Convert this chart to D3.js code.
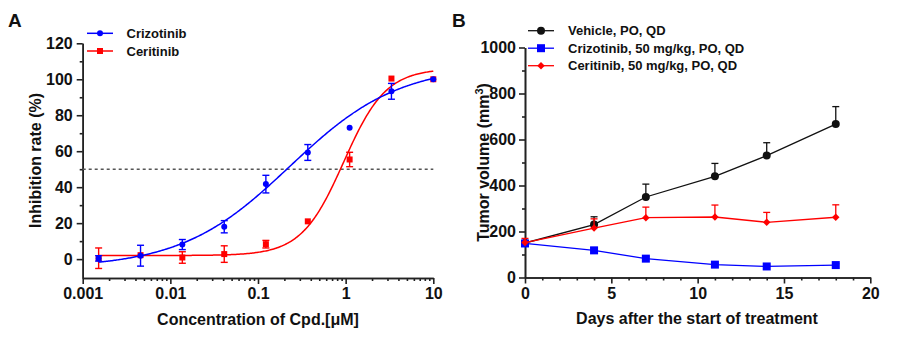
<!DOCTYPE html>
<html>
<head>
<meta charset="utf-8">
<script src="https://cdn.jsdelivr.net/npm/d3@7"></script>
<style>
body { margin: 0; background: #fff; }
svg text { font-family: "Liberation Sans", Arial, sans-serif; font-weight: bold; fill: #111; }
.axis path, .axis line { stroke: #222; stroke-width: 1.6; }
.axis text { font-size: 16px; }
</style>
</head>
<body>
<div id="chart"></div>
<script>
// ---- panel A: inhibition vs concentration ----
var conc = [0.00152, 0.00457, 0.0137, 0.0412, 0.123, 0.370, 1.11, 3.33, 10];
var crizo = [0.4, 1.9, 8.1, 18, 41.7, 59.3, 73, 93.3, 100];
var crizoErr = [1.5, 5.8, 2.8, 3.4, 4.9, 4.4, 0, 4.4, 0];
var ceri = [0.5, 2.2, 0.9, 2.8, 8.3, 21, 55.4, 100.4, 100];
var ceriErr = [5.7, 0, 3.2, 4.6, 2.1, 0, 4, 0, 0];
// 4PL fit: bottom, top, IC50, hill
var crizoFit = [-5, 108, 0.23, 0.7];
var ceriFit = [2, 106, 0.95, 1.8];
var xTicksA = [0.001, 0.01, 0.1, 1, 10];
var xLabelsA = ["0.001", "0.01", "0.1", "1", "10"];
var yTicksA = [0, 20, 40, 60, 80, 100, 120];

// ---- panel B: tumour volume over time ----
var days = [0, 4, 7, 11, 14, 18];
var vehicle = [150, 230, 350, 440, 530, 667];
var vehicleErr = [10, 34, 56, 56, 56, 76];
var crizoB = [148, 118, 82, 56, 48, 54];
var crizoBErr = [10, 12, 8, 6, 5, 6];
var ceriB = [152, 215, 260, 263, 240, 262];
var ceriBErr = [18, 40, 46, 52, 43, 54];
var xTicksB = [0, 5, 10, 15, 20];
var yTicksB = [0, 200, 400, 600, 800, 1000];

var width = 913, height = 344;
var blue = "#0000ff", red = "#ff0000";

var svg = d3.select("#chart")
            .append("svg")
            .attr("width", width)
            .attr("height", height);
svg.append("rect").attr("width", width).attr("height", height).attr("fill", "#fff");

// ================= panel A =================
var xA = d3.scaleLog().domain([0.001, 10]).range([82.7, 433.3]);
var yA = d3.scaleLinear().domain([-10.5, 120]).range([278, 43.3]);

// minor ticks first
var minorX = [];
[0.001, 0.01, 0.1, 1].forEach(function(d) {
  for (var k = 2; k <= 9; k++) minorX.push(d * k);
});
svg.append("g").attr("class", "axis")
   .attr("transform", "translate(0,278)")
   .call(d3.axisBottom(xA).tickValues(minorX).tickSize(3).tickSizeOuter(0).tickFormat(""));
svg.append("g").attr("class", "axis")
   .attr("transform", "translate(0,278)")
   .call(d3.axisBottom(xA).tickValues(xTicksA).tickSize(6).tickSizeOuter(0).tickPadding(4)
           .tickFormat(function(d, i) { return xLabelsA[i]; }));
svg.append("g").attr("class", "axis")
   .attr("transform", "translate(82.7,0)")
   .call(d3.axisLeft(yA).tickValues([10, 30, 50, 70, 90, 110]).tickSize(3).tickSizeOuter(0).tickFormat(""));
svg.append("g").attr("class", "axis")
   .attr("transform", "translate(82.7,0)")
   .call(d3.axisLeft(yA).tickValues(yTicksA).tickSize(6).tickSizeOuter(0).tickPadding(4));

// 50% reference line
svg.append("line")
   .attr("x1", xA(0.001)).attr("x2", xA(10))
   .attr("y1", yA(50)).attr("y2", yA(50))
   .attr("stroke", "#555").attr("stroke-width", 1.5).attr("stroke-dasharray", "3,3");

function fit4pl(p, x) {
  return p[0] + (p[1] - p[0]) / (1 + Math.pow(p[2] / x, p[3]));
}
var lo = Math.log10(conc[0]), hi = Math.log10(conc[conc.length - 1]);
var xs = d3.range(0, 301).map(function(i) { return Math.pow(10, lo + (hi - lo) * i / 300); });
var lineA = d3.line().x(function(d) { return xA(d[0]); }).y(function(d) { return yA(d[1]); });

function drawDose(vals, errs, fit, color, shape) {
  svg.append("path")
     .datum(xs.map(function(x) { return [x, fit4pl(fit, x)]; }))
     .attr("d", lineA).attr("fill", "none").attr("stroke", color).attr("stroke-width", 1.5);
  var g = svg.append("g");
  conc.forEach(function(c, i) {
    if (errs[i] > 0) {
      var x = xA(c), y1 = yA(vals[i] + errs[i]), y2 = yA(vals[i] - errs[i]);
      g.append("line").attr("x1", x).attr("x2", x).attr("y1", y1).attr("y2", y2)
       .attr("stroke", color).attr("stroke-width", 1.4);
      [y1, y2].forEach(function(y) {
        g.append("line").attr("x1", x - 3.5).attr("x2", x + 3.5).attr("y1", y).attr("y2", y)
         .attr("stroke", color).attr("stroke-width", 1.4);
      });
    }
    if (shape === "circle") {
      g.append("circle").attr("cx", xA(c)).attr("cy", yA(vals[i])).attr("r", 3).attr("fill", color);
    } else {
      g.append("rect").attr("x", xA(c) - 3).attr("y", yA(vals[i]) - 3)
       .attr("width", 6).attr("height", 6).attr("fill", color);
    }
  });
}
drawDose(ceri, ceriErr, ceriFit, red, "square");
drawDose(crizo, crizoErr, crizoFit, blue, "circle");

// legend A
var legA = [["Crizotinib", blue, "circle"], ["Ceritinib", red, "square"]];
legA.forEach(function(d, i) {
  var y = 33.3 + i * 17.7;
  svg.append("line").attr("x1", 87).attr("x2", 113).attr("y1", y).attr("y2", y)
     .attr("stroke", d[1]).attr("stroke-width", 1.5);
  if (d[2] === "circle") svg.append("circle").attr("cx", 100).attr("cy", y).attr("r", 3).attr("fill", d[1]);
  else svg.append("rect").attr("x", 97).attr("y", y - 3).attr("width", 6).attr("height", 6).attr("fill", d[1]);
  svg.append("text").attr("x", 126.5).attr("y", y + 4.6).attr("font-size", "13px").text(d[0]);
});

svg.append("text").attr("x", 258).attr("y", 325).attr("text-anchor", "middle")
   .attr("font-size", "16px").text("Concentration of Cpd.[\u03bcM]");
svg.append("text").attr("transform", "translate(40.5,160.5) rotate(-90)").attr("text-anchor", "middle")
   .attr("font-size", "16px").text("Inhibition rate (%)");
svg.append("text").attr("x", 8).attr("y", 27).attr("font-size", "19px").text("A");

// ================= panel B =================
var xB = d3.scaleLinear().domain([0, 20]).range([525, 870.3]);
var yB = d3.scaleLinear().domain([0, 1000]).range([277.5, 47.5]);

svg.append("g").attr("class", "axis")
   .attr("transform", "translate(0,277.5)")
   .call(d3.axisBottom(xB).tickValues(d3.range(1, 20).filter(function(d) { return d % 5; }))
           .tickSize(3).tickSizeOuter(0).tickFormat(""));
svg.append("g").attr("class", "axis")
   .attr("transform", "translate(0,277.5)")
   .call(d3.axisBottom(xB).tickValues(xTicksB).tickSize(6).tickSizeOuter(0).tickPadding(4));
svg.append("g").attr("class", "axis")
   .attr("transform", "translate(525,0)")
   .call(d3.axisLeft(yB).tickValues([100, 300, 500, 700, 900]).tickSize(3).tickSizeOuter(0).tickFormat(""));
svg.append("g").attr("class", "axis")
   .attr("transform", "translate(525,0)")
   .call(d3.axisLeft(yB).tickValues(yTicksB).tickSize(6).tickSizeOuter(0).tickPadding(3)
           .tickFormat(d3.format("d")));

var lineB = d3.line().x(function(d, i) { return xB(days[i]); }).y(function(d) { return yB(d); });

function marker(g, shape, x, y, color) {
  if (shape === "circle") {
    g.append("circle").attr("cx", x).attr("cy", y).attr("r", 4).attr("fill", color);
  } else if (shape === "square") {
    g.append("rect").attr("x", x - 4).attr("y", y - 4).attr("width", 8).attr("height", 8).attr("fill", color);
  } else {
    g.append("path").attr("d", d3.symbol(d3.symbolSquare, 28)())
     .attr("transform", "translate(" + x + "," + y + ") rotate(45)").attr("fill", color);
  }
}

function drawTime(vals, errs, color, shape) {
  var g = svg.append("g");
  g.append("path").datum(vals).attr("d", lineB).attr("fill", "none")
   .attr("stroke", color).attr("stroke-width", 1.3);
  days.forEach(function(d, i) {
    var x = xB(d), y0 = yB(vals[i]), y1 = yB(vals[i] + errs[i]);
    g.append("line").attr("x1", x).attr("x2", x).attr("y1", y0).attr("y2", y1)
     .attr("stroke", color).attr("stroke-width", 1.3);
    g.append("line").attr("x1", x - 3.5).attr("x2", x + 3.5).attr("y1", y1).attr("y2", y1)
     .attr("stroke", color).attr("stroke-width", 1.3);
    marker(g, shape, x, y0, color);
  });
}
drawTime(vehicle, vehicleErr, "#111", "circle");
drawTime(crizoB, crizoBErr, blue, "square");
drawTime(ceriB, ceriBErr, red, "diamond");

// legend B
var legB = [["Vehicle, PO, QD", "#111", "circle"],
            ["Crizotinib, 50 mg/kg, PO, QD", blue, "square"],
            ["Ceritinib, 50 mg/kg, PO, QD", red, "diamond"]];
legB.forEach(function(d, i) {
  var y = 30.7 + i * 17.5;
  var g = svg.append("g");
  g.append("line").attr("x1", 528).attr("x2", 554).attr("y1", y).attr("y2", y)
   .attr("stroke", d[1]).attr("stroke-width", 1.3);
  marker(g, d[2], 541, y, d[1]);
  g.append("text").attr("x", 568).attr("y", y + 4.6).attr("font-size", "13px").text(d[0]);
});

svg.append("text").attr("x", 697).attr("y", 324).attr("text-anchor", "middle")
   .attr("font-size", "16px").text("Days after the start of treatment");
var ty = svg.append("text").attr("transform", "translate(489,162.5) rotate(-90)")
   .attr("text-anchor", "middle").attr("font-size", "16px");
ty.append("tspan").text("Tumor volume (mm");
ty.append("tspan").attr("font-size", "11px").attr("dy", "-6").text("3");
ty.append("tspan").attr("dy", "6").text(")");
svg.append("text").attr("x", 452).attr("y", 27).attr("font-size", "19px").text("B");
</script>
</body>
</html>
